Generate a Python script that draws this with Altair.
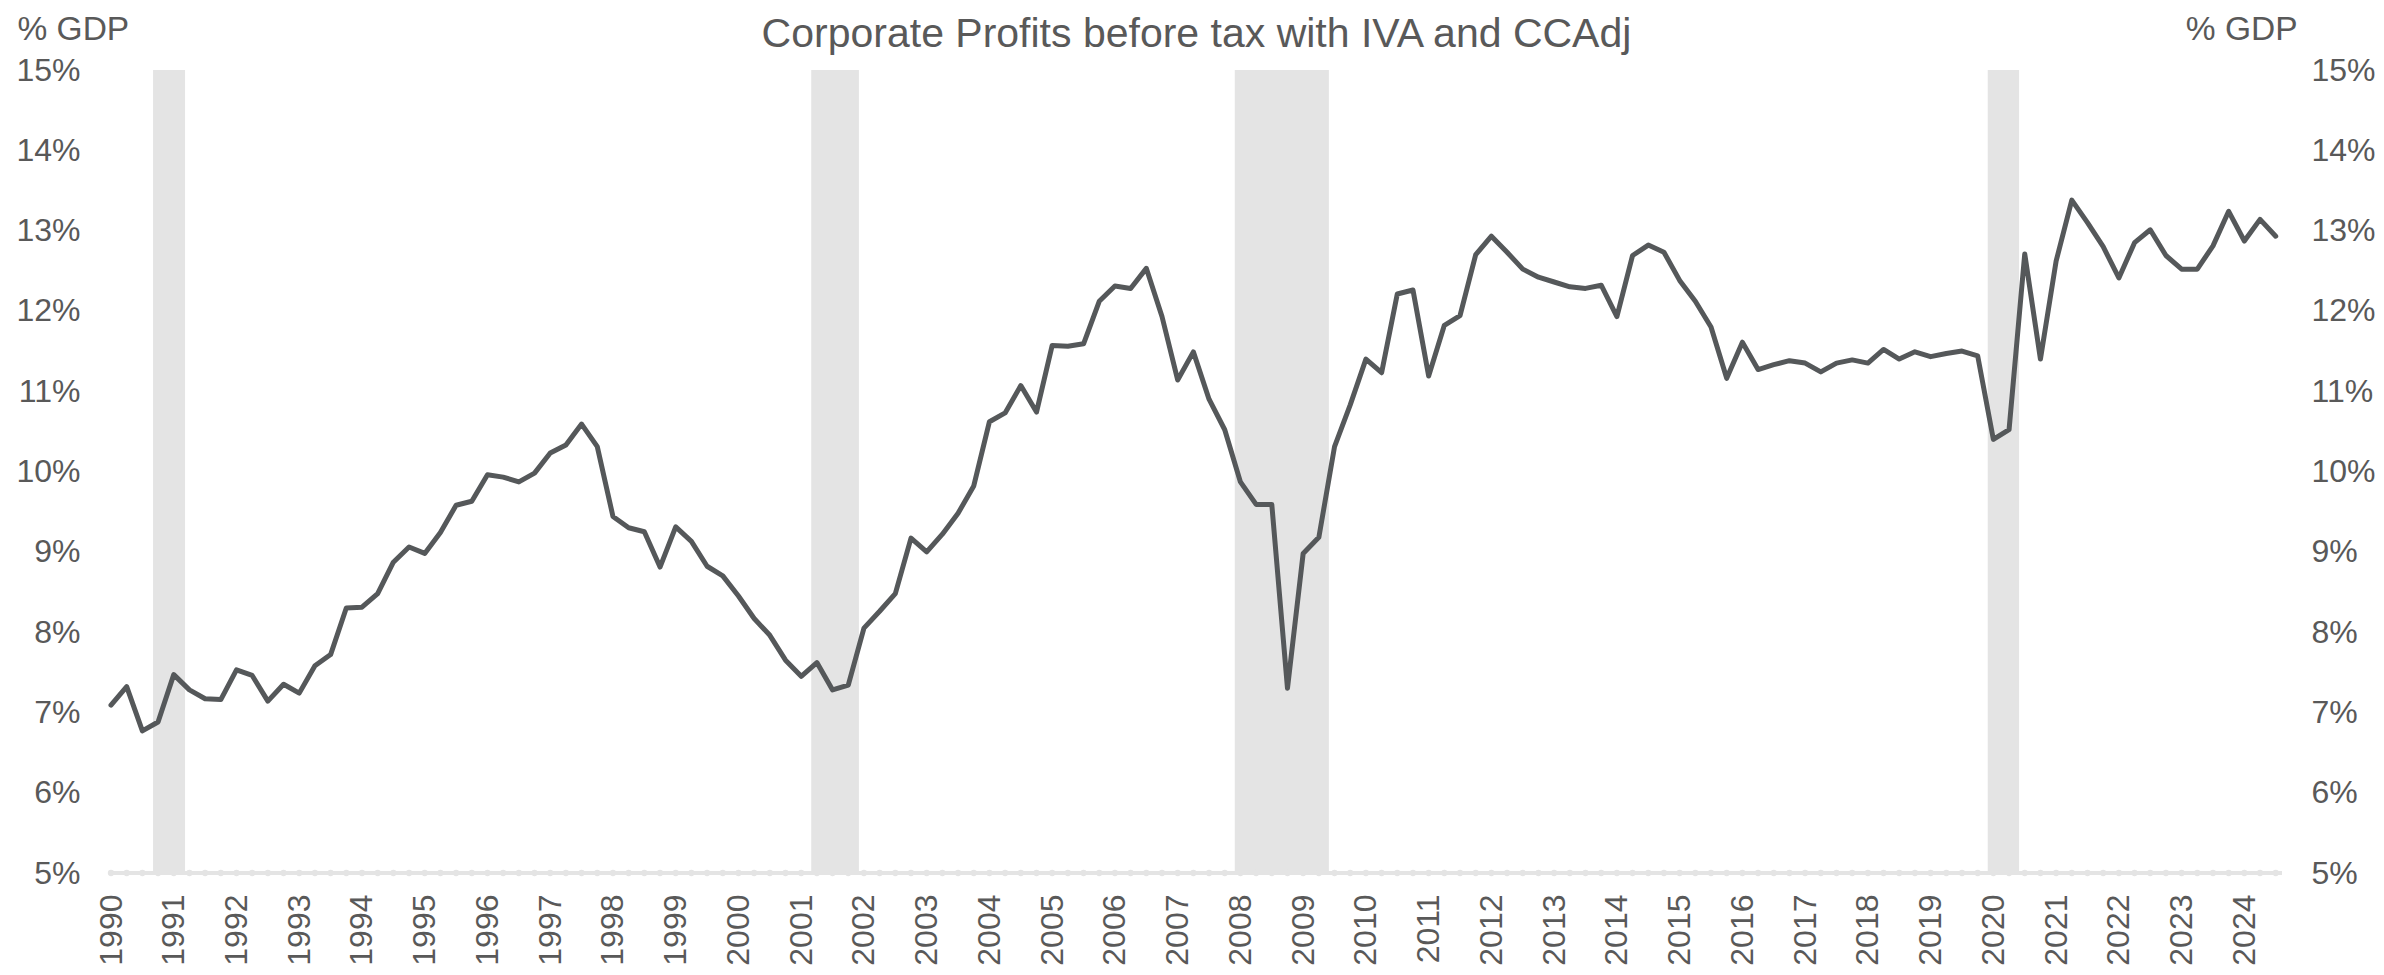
import altair as alt
import pandas as pd

# ---------------- data ----------------
start_year = 1990  # first quarter = 1990 Q1, quarterly series
profits_pct = [
    7.09, 7.32, 6.77, 6.88, 7.47, 7.28, 7.17, 7.16, 7.53, 7.46,
    7.14, 7.35, 7.24, 7.58, 7.72, 8.30, 8.31, 8.48, 8.87, 9.06,
    8.98, 9.24, 9.58, 9.63, 9.96, 9.93, 9.87, 9.98, 10.23, 10.33,
    10.59, 10.31, 9.44, 9.30, 9.25, 8.81, 9.31, 9.13, 8.82, 8.70,
    8.45, 8.17, 7.96, 7.65, 7.45, 7.62, 7.28, 7.34, 8.05, 8.26,
    8.48, 9.17, 9.00, 9.22, 9.48, 9.82, 10.62, 10.73, 11.07, 10.74,
    11.57, 11.56, 11.59, 12.12, 12.31, 12.28, 12.53, 11.93, 11.14, 11.49,
    10.90, 10.52, 9.87, 9.59, 9.59, 7.30, 8.98, 9.18, 10.31, 10.83,
    11.40, 11.23, 12.21, 12.26, 11.19, 11.82, 11.94, 12.70, 12.93, 12.73,
    12.52, 12.42, 12.36, 12.30, 12.28, 12.32, 11.93, 12.69, 12.82, 12.73,
    12.38, 12.12, 11.80, 11.16, 11.61, 11.27, 11.33, 11.38, 11.35, 11.24,
    11.35, 11.39, 11.35, 11.52, 11.40, 11.49, 11.43, 11.47, 11.50, 11.44,
    10.40, 10.52, 12.71, 11.40, 12.62, 13.38, 13.10, 12.80, 12.41, 12.85,
    13.01, 12.69, 12.52, 12.52, 12.81, 13.24, 12.87, 13.14, 12.93,
]
recession_start = [1990.67, 2001.16, 2007.91, 2019.91]
recession_end = [1991.18, 2001.92, 2009.41, 2020.41]
year_ticks = list(range(1990, 2025))
pct_ticks = list(range(5, 16))
title_text = "Corporate Profits before tax with IVA and CCAdj"
axis_title = "% GDP"

df = pd.DataFrame({
    "t": [start_year + i / 4 for i in range(len(profits_pct))],
    "v": profits_pct,
})
rec = pd.DataFrame({"s": recession_start, "e": recession_end})

# ---------------- style ----------------
W, H = 2171, 803
TEXT = "#595959"
FONT = "Liberation Sans"
BAND = "#e4e4e4"
LINE = "#55585a"

xscale = alt.Scale(domain=[1990, 2024.6], nice=False, zero=False)
yscale = alt.Scale(domain=[5, 15], nice=False, zero=False)

xaxis = alt.Axis(
    values=year_ticks, format="d", labelAngle=-90, labelFontSize=32,
    labelColor=TEXT, labelFont=FONT, domain=False, ticks=False, tickSize=0,
    labelPadding=21, grid=False, title=None, labelOverlap=False, labelFlush=False,
)

def yaxis(orient, pad, tx, talign):
    return alt.Axis(
        orient=orient, values=pct_ticks, labelExpr="datum.value + '%'",
        labelFontSize=32, labelColor=TEXT, labelFont=FONT, domain=False,
        ticks=False, tickSize=0, labelPadding=pad, grid=False,
        labelOverlap=False, labelFlush=False,
        title=axis_title, titleAngle=0, titleAlign=talign,
        titleBaseline="alphabetic", titleX=tx, titleY=-31, titleFontSize=33.5,
        titleFont=FONT, titleColor=TEXT, titleFontWeight="normal",
    )

yaxis_left = yaxis("left", 31, -94, "left")
yaxis_right = yaxis("right", 29, 15, "right")

bands = alt.Chart(rec).mark_rect(color=BAND).encode(
    x=alt.X("s:Q", scale=xscale, axis=xaxis),
    x2="e:Q",
    y=alt.YDatum(15, type="quantitative", scale=yscale, axis=yaxis_left),
    y2=alt.Y2Datum(5),
)

base_rule = alt.Chart(df).mark_rule(color=BAND, strokeWidth=4).encode(
    x=alt.XDatum(1990, type="quantitative", scale=xscale, axis=xaxis),
    x2=alt.X2Datum(2024.6),
    y=alt.YDatum(5, type="quantitative", scale=yscale, axis=yaxis_left),
)

scallops = alt.Chart(df).mark_circle(color=BAND, opacity=1, size=40).encode(
    x=alt.X("t:Q", scale=xscale, axis=xaxis),
    y=alt.YDatum(5, type="quantitative", scale=yscale, axis=yaxis_left),
)

line = alt.Chart(df).mark_line(
    color=LINE, strokeWidth=5, strokeJoin="round", strokeCap="round"
).encode(
    x=alt.X("t:Q", scale=xscale, axis=xaxis),
    y=alt.Y("v:Q", scale=yscale, axis=yaxis_left),
)

left = alt.layer(bands, base_rule, scallops, line)

right = alt.Chart(df).mark_line(opacity=0).encode(
    x=alt.X("t:Q", scale=xscale, axis=xaxis),
    y=alt.Y("v:Q", scale=yscale, axis=yaxis_right),
)

chart = alt.layer(left, right).resolve_scale(y="independent").properties(
    width=W, height=H,
    background="white",
    title=alt.TitleParams(
        text=title_text, fontSize=41, font=FONT, color=TEXT,
        fontWeight="normal", anchor="middle", frame="group",
        baseline="alphabetic", offset=0, dy=76,
    ),
    autosize=alt.AutoSizeParams(type="none"),
    padding={"left": 103, "top": 62, "right": 94, "bottom": 94},
).configure_view(strokeWidth=0, stroke=None)

chart.save("out.html", embed_options={"renderer": "svg", "actions": False})
